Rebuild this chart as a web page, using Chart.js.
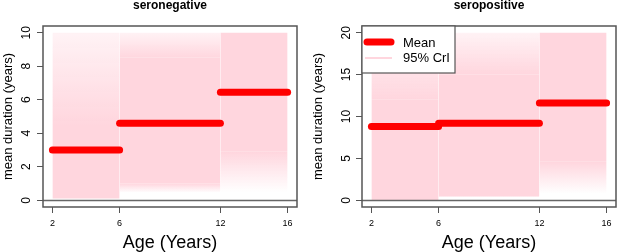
<!DOCTYPE html>
<html>
<head>
<meta charset="utf-8">
<script src="https://cdn.jsdelivr.net/npm/chart.js@4"></script>
<style>
  body { margin: 0; background: #fff; }
  #wrap { position: relative; width: 617px; height: 252px; }
  canvas { position: absolute; top: 0; }
</style>
</head>
<body>
<div id="wrap">
  <canvas id="neg" width="307" height="252" style="left:0"></canvas>
  <canvas id="pos" width="310" height="252" style="left:307px"></canvas>
</div>
<script>
// Age group boundaries and tick labels
const ageBreaks = [2, 6, 12, 16];
const xTicks = [2, 6, 12, 16];
const negYTicks = [0, 2, 4, 6, 8, 10];
const posYTicks = [0, 5, 10, 15, 20];

// Posterior mean duration per age group
const negMean = [3.0, 4.6, 6.45];
const posMean = [8.8, 9.2, 11.6];

// 95% CrI shading: faint bottom, dense low, dense high, faint top
const negCrIBottom = [0.1, 0.45, 0.5];
const negCrILow = [0.1, 1.0, 2.9];
const negCrIHigh = [4.5, 8.5, 10];
const negCrITop = [10, 10, 10];
const posCrIBottom = [0, 0.4, 0.8];
const posCrILow = [0, 0.5, 4.6];
const posCrIHigh = [12, 15, 20];
const posCrITop = [20, 20, 20];

const PINK = 'rgb(255,214,222)';
const PINK_TOP = 'rgba(255,214,222,0.3)';
const PINK_NONE = 'rgba(255,214,222,0)';
const FONT = '"Liberation Sans", Arial, sans-serif';

function gradientFill(from, to, endColor) {
  return (ctx) => {
    const chart = ctx.chart;
    if (!chart.chartArea) return PINK;
    const ys = chart.scales.y;
    const g = chart.ctx.createLinearGradient(0, ys.getPixelForValue(from), 0, ys.getPixelForValue(to) + 0.01);
    g.addColorStop(0, PINK);
    g.addColorStop(1, endColor);
    return g;
  };
}

function band(x0, x1, y, base, color) {
  return {
    data: [{x: x0, y: y}, {x: x1, y: y}],
    borderWidth: 0,
    pointRadius: 0,
    fill: {value: base},
    backgroundColor: color,
    order: 2
  };
}

function buildDatasets(mean, bottom, low, high, top) {
  const ds = [];
  for (let i = 0; i < mean.length; i++) {
    const x0 = ageBreaks[i], x1 = ageBreaks[i + 1];
    ds.push(band(x0, x1, low[i], bottom[i], gradientFill(low[i], bottom[i], PINK_NONE)));
    ds.push(band(x0, x1, high[i], low[i], PINK));
    ds.push(band(x0, x1, top[i], high[i], gradientFill(high[i], top[i], PINK_TOP)));
  }
  for (let i = 0; i < mean.length; i++) {
    ds.push({
      data: [{x: ageBreaks[i], y: mean[i]}, {x: ageBreaks[i + 1], y: mean[i]}],
      borderColor: '#ff0000',
      borderWidth: 7,
      borderCapStyle: 'round',
      pointRadius: 0,
      fill: false,
      order: 1
    });
  }
  return ds;
}

function decorations(p) {
  return {
    id: 'deco',
    afterDatasetsDraw(chart) {
      const c = chart.ctx, a = chart.chartArea, ys = chart.scales.y;
      c.save();
      c.strokeStyle = '#666';
      c.lineWidth = 1.5;
      const y0 = Math.round(ys.getPixelForValue(0)) + 0.5;
      c.beginPath(); c.moveTo(a.left, y0); c.lineTo(a.right, y0); c.stroke();
      c.restore();
    },
    afterDraw(chart) {
      const c = chart.ctx, a = chart.chartArea, ys = chart.scales.y;
      c.save();
      // box
      c.strokeStyle = '#555';
      c.lineWidth = 1.5;
      c.strokeRect(a.left, a.top, a.right - a.left, a.bottom - a.top);
      // title
      c.fillStyle = '#000';
      c.textAlign = 'center';
      c.textBaseline = 'middle';
      c.font = 'bold 12px ' + FONT;
      c.fillText(p.title, (a.left + a.right) / 2, 6);
      // x title
      c.font = '18px ' + FONT;
      c.fillText('Age (Years)', (a.left + a.right) / 2, 243);
      // y tick labels (rotated) and y title
      c.font = '12px ' + FONT;
      ys.ticks.forEach(t => {
        c.save();
        c.translate(a.left - p.tickGap, ys.getPixelForValue(t.value));
        c.rotate(-Math.PI / 2);
        c.fillText(String(t.value), 0, 0);
        c.restore();
      });
      c.save();
      c.font = '13px ' + FONT;
      c.translate(a.left - p.titleGap, (a.top + a.bottom) / 2);
      c.rotate(-Math.PI / 2);
      c.fillText('mean duration (years)', 0, 0);
      c.restore();
      // legend
      if (p.legend) {
        const lx = a.left, ly = a.top, lw = 93, lh = 47;
        c.fillStyle = '#fff';
        c.fillRect(lx, ly, lw, lh);
        c.strokeStyle = '#555';
        c.lineWidth = 1.2;
        c.strokeRect(lx, ly, lw, lh);
        c.lineCap = 'round';
        c.strokeStyle = '#ff0000';
        c.lineWidth = 7;
        c.beginPath(); c.moveTo(lx + 5, ly + 16); c.lineTo(lx + 29, ly + 16); c.stroke();
        c.strokeStyle = PINK;
        c.lineWidth = 2;
        c.lineCap = 'butt';
        c.beginPath(); c.moveTo(lx + 3, ly + 32); c.lineTo(lx + 30, ly + 32); c.stroke();
        c.fillStyle = '#000';
        c.textAlign = 'left';
        c.font = '13px ' + FONT;
        c.fillText('Mean', lx + 41, ly + 17);
        c.fillText('95% CrI', lx + 41, ly + 32);
      }
      c.restore();
    }
  };
}

function makePanel(id, p) {
  new Chart(document.getElementById(id), {
    type: 'line',
    data: { datasets: p.datasets },
    options: {
      responsive: false,
      animation: false,
      layout: { padding: { left: 0, right: p.padRight, top: 26, bottom: 0 } },
      plugins: { legend: { display: false }, tooltip: { enabled: false }, title: { display: false } },
      scales: {
        x: {
          type: 'linear',
          min: 1.44, max: 16.56,
          afterBuildTicks: s => { s.ticks = xTicks.map(v => ({ value: v })); },
          afterFit: s => { s.height = 45; },
          grid: { drawOnChartArea: false, tickLength: 6, color: '#555', lineWidth: 1 },
          border: { display: false },
          ticks: { color: '#000', font: { size: 9, family: FONT }, padding: 5, maxRotation: 0, autoSkip: false }
        },
        y: {
          min: p.yMin, max: p.yMax,
          afterBuildTicks: s => { s.ticks = p.yTicks.map(v => ({ value: v })); },
          afterFit: s => { s.width = p.plotLeft; },
          grid: { drawOnChartArea: false, tickLength: 6, color: '#555', lineWidth: 1 },
          border: { display: false },
          ticks: { display: false }
        }
      }
    },
    plugins: [decorations(p)]
  });
}

makePanel('neg', {
  title: 'seronegative',
  datasets: buildDatasets(negMean, negCrIBottom, negCrILow, negCrIHigh, negCrITop),
  yTicks: negYTicks, yMin: -0.4, yMax: 10.4,
  plotLeft: 43, padRight: 10, tickGap: 16, titleGap: 35, legend: false
});

makePanel('pos', {
  title: 'seropositive',
  datasets: buildDatasets(posMean, posCrIBottom, posCrILow, posCrIHigh, posCrITop),
  yTicks: posYTicks, yMin: -0.8, yMax: 20.8,
  plotLeft: 55, padRight: 1, tickGap: 15, titleGap: 44, legend: true
});
</script>
</body>
</html>
